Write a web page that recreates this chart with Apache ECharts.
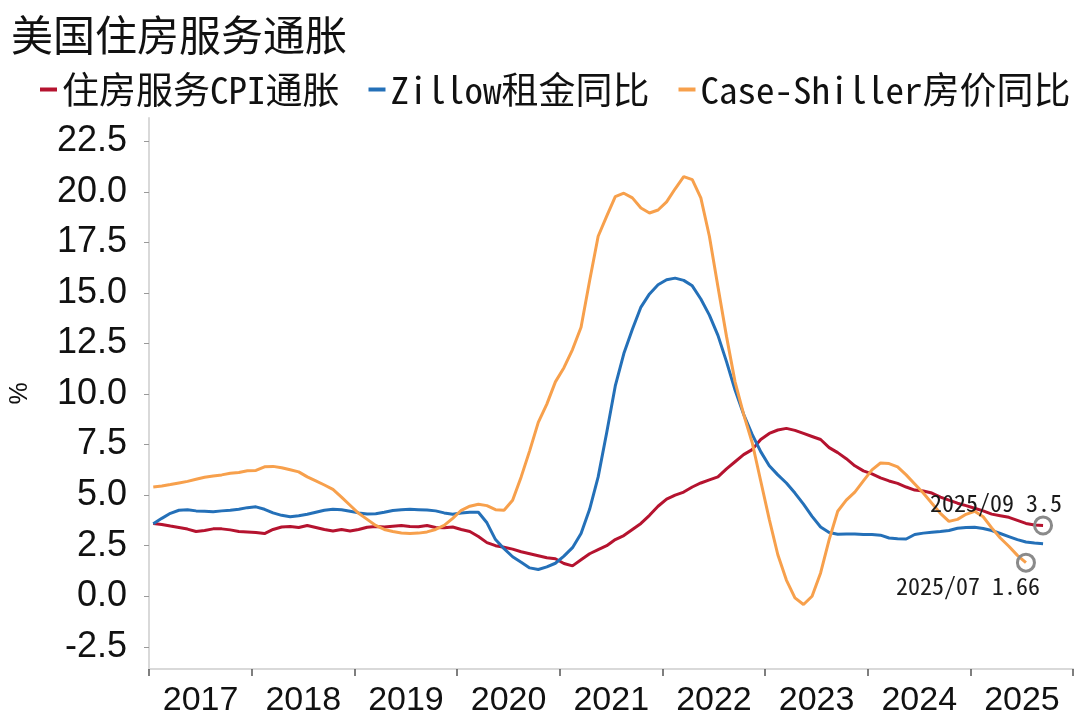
<!DOCTYPE html>
<html><head><meta charset="utf-8">
<script src="https://cdn.jsdelivr.net/npm/echarts@6/dist/echarts.min.js"></script>
<style>html,body{margin:0;padding:0;background:#fff}#c{width:1080px;height:721px}</style>
</head><body><div id="c"></div>
<script>
// ---- data ----
const years = ['2017','2018','2019','2020','2021','2022','2023','2024','2025'];
const months = [];
for (const y of years) for (let m = 1; m <= 12; m++) months.push(y + '-' + String(m).padStart(2, '0'));

const yTicks = [-2.5, 0, 2.5, 5, 7.5, 10, 12.5, 15, 17.5, 20, 22.5];

const seriesNames = ['住房服务CPI通胀', 'Zillow租金同比', 'Case-Shiller房价同比'];

// 住房服务CPI通胀 (2017-01 .. 2025-09)
const shelterCPI = [
  3.6,3.55,3.47,3.4,3.32,3.2,3.25,3.33,3.33,3.28,3.2,3.18,
  3.15,3.1,3.3,3.42,3.45,3.4,3.5,3.4,3.3,3.22,3.3,3.22,
  3.3,3.41,3.45,3.42,3.46,3.5,3.45,3.43,3.5,3.4,3.38,3.42,
  3.3,3.2,2.95,2.65,2.5,2.42,2.33,2.2,2.1,2.0,1.9,1.85,
  1.62,1.5,1.8,2.1,2.3,2.5,2.8,3.0,3.3,3.6,4.0,4.45,
  4.8,5.0,5.15,5.4,5.6,5.75,5.9,6.3,6.65,7.0,7.25,7.75,
  8.05,8.22,8.3,8.2,8.05,7.9,7.75,7.35,7.1,6.8,6.45,6.2,
  6.05,5.85,5.7,5.58,5.4,5.25,5.2,5.1,4.9,4.75,4.6,4.48,
  4.35,4.22,4.06,3.98,3.9,3.75,3.6,3.52,3.5
];

// Zillow租金同比 (2017-01 .. 2025-09)
const zillowRent = [
  3.58,3.85,4.1,4.25,4.28,4.22,4.2,4.18,4.22,4.25,4.3,4.38,
  4.42,4.3,4.12,4.0,3.93,3.98,4.05,4.15,4.25,4.3,4.28,4.2,
  4.12,4.07,4.08,4.15,4.24,4.28,4.3,4.28,4.26,4.22,4.12,4.05,
  4.12,4.15,4.15,3.63,2.8,2.35,1.95,1.68,1.4,1.32,1.45,1.63,
  1.98,2.4,3.1,4.3,5.9,8.1,10.4,12.0,13.2,14.3,14.95,15.4,
  15.65,15.73,15.62,15.35,14.7,13.9,12.9,11.6,10.2,9.0,8.0,7.15,
  6.45,6.0,5.6,5.1,4.55,3.95,3.42,3.15,3.06,3.08,3.08,3.05,
  3.05,3.02,2.88,2.84,2.83,3.05,3.12,3.16,3.2,3.25,3.36,3.4,
  3.41,3.35,3.25,3.1,2.95,2.8,2.68,2.63,2.6
];

// Case-Shiller房价同比 (2017-01 .. 2025-07)
const caseShiller = [
  5.4,5.45,5.52,5.6,5.68,5.78,5.88,5.95,6.0,6.08,6.12,6.2,
  6.22,6.4,6.42,6.35,6.25,6.15,5.9,5.7,5.5,5.28,4.9,4.5,
  4.1,3.8,3.5,3.3,3.2,3.13,3.1,3.12,3.18,3.3,3.5,3.85,
  4.25,4.45,4.55,4.48,4.28,4.25,4.75,5.9,7.2,8.6,9.5,10.6,
  11.3,12.2,13.3,15.6,17.8,18.8,19.76,19.93,19.7,19.2,18.95,19.1,
  19.5,20.15,20.75,20.6,19.7,17.8,15.3,12.85,10.6,9.0,7.6,5.7,
  3.8,2.05,0.8,-0.08,-0.41,0.0,1.15,2.8,4.2,4.75,5.15,5.7,
  6.25,6.59,6.56,6.4,6.0,5.55,5.1,4.6,4.1,3.7,3.8,4.05,
  4.2,3.93,3.38,2.88,2.47,2.02,1.66
];

const colors = ['#B5132F', '#2470B8', '#F7A04C'];

// ---- chart ----
const chart = echarts.init(document.getElementById('c'), null, {renderer: 'canvas'});
const monoFont = "'Noto Sans Mono CJK SC', 'Noto Sans CJK SC', monospace";

function endPoint(arr, pos, offset) {
  const i = arr.length - 1;
  return {
    symbol: 'circle',
    symbolSize: 17,
    silent: true,
    itemStyle: {color: 'rgba(0,0,0,0)', borderColor: '#8a8a8a', borderWidth: 3},
    label: {
      show: true,
      position: pos,
      distance: 1,
      offset: offset,
      color: '#1a1a1a',
      fontFamily: monoFont,
      fontSize: 24,
      formatter: () => months[i].replace('-', '/') + ' ' + arr[i]
    },
    data: [{coord: [months[i], arr[i]]}]
  };
}

chart.setOption({
  animation: false,
  color: colors,
  title: {
    text: '美国住房服务通胀',
    left: 6, top: 9,
    textStyle: {fontFamily: "'Noto Sans CJK SC'", fontSize: 42, fontWeight: 'normal', color: '#111'}
  },
  legend: {
    data: seriesNames,
    left: 35, top: 66,
    icon: 'rect',
    itemWidth: 17, itemHeight: 4,
    itemGap: 29,
    textStyle: {fontFamily: monoFont, fontSize: 37, color: '#111'}
  },
  grid: {left: 149, right: 7, top: 118, bottom: 52, containLabel: false},
  xAxis: {
    type: 'category',
    data: months,
    boundaryGap: true,
    axisLine: {onZero: false, lineStyle: {color: '#d9d9d9', width: 2}},
    axisTick: {show: true, interval: (i) => i % 12 === 0, length: 7, lineStyle: {color: '#555', width: 1.5}},
    axisLabel: {
      interval: (i) => i % 12 === 6,
      formatter: (v) => v.slice(0, 4),
      fontFamily: 'Arial, "Liberation Sans"',
      fontSize: 34, color: '#111', margin: 15,
      padding: [0, 8, 0, 0]
    },
    splitLine: {show: false}
  },
  yAxis: {
    type: 'value',
    min: -3.6, max: 23.65,
    name: '%',
    nameLocation: 'middle',
    nameRotate: 90,
    nameGap: 116,
    nameTextStyle: {fontFamily: 'Arial, "Liberation Sans"', fontSize: 25, color: '#111'},
    axisLine: {show: true, lineStyle: {color: '#d9d9d9', width: 2}},
    axisTick: {show: true, customValues: yTicks, length: 5, lineStyle: {color: '#999'}},
    axisLabel: {
      customValues: yTicks,
      formatter: (v) => Number(v).toFixed(1),
      fontFamily: 'Arial, "Liberation Sans"',
      fontSize: 36, color: '#111', margin: 22
    },
    splitLine: {show: false}
  },
  series: [
    {name: seriesNames[0], type: 'line', data: shelterCPI, symbol: 'none', lineStyle: {width: 3}, color: colors[0],
     markPoint: endPoint(shelterCPI, 'top', [-47, 0])},
    {name: seriesNames[1], type: 'line', data: zillowRent, symbol: 'none', lineStyle: {width: 3}, color: colors[1]},
    {name: seriesNames[2], type: 'line', data: caseShiller, symbol: 'none', lineStyle: {width: 3}, color: colors[2],
     markPoint: endPoint(caseShiller, 'bottom', [-58, 0])}
  ]
});
</script>
</body></html>
